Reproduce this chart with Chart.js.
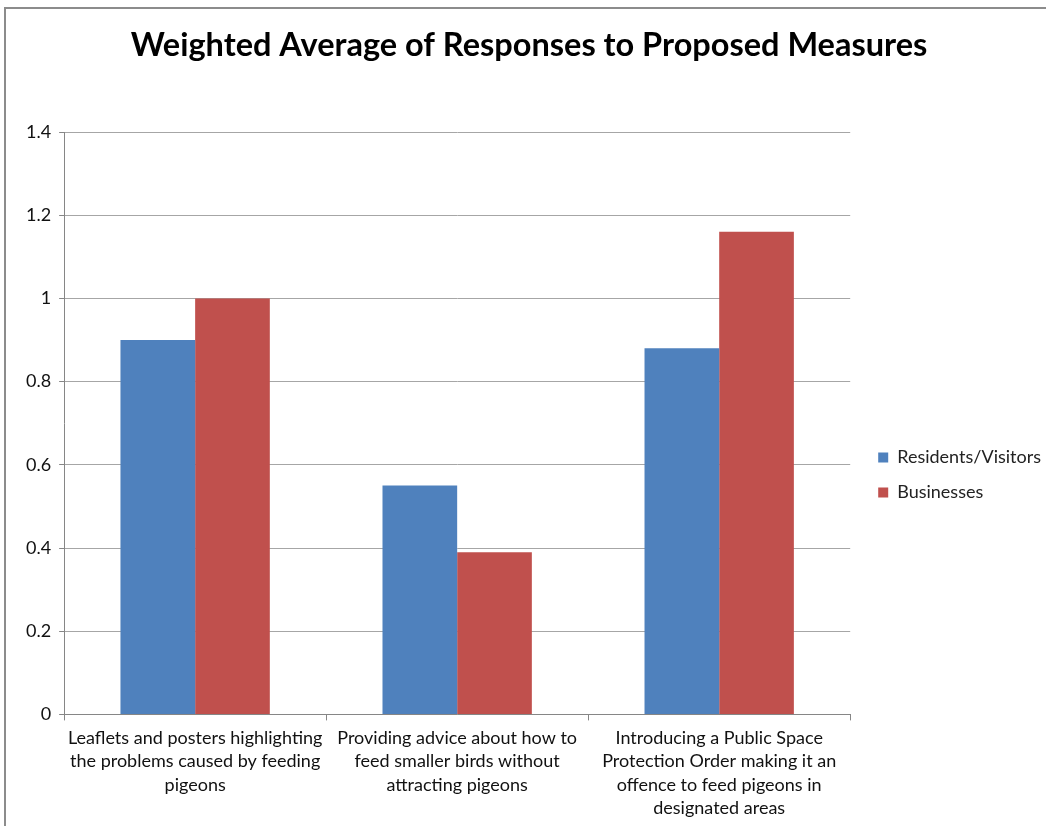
<!DOCTYPE html>
<html>
<head>
<meta charset="utf-8">
<script src="https://cdn.jsdelivr.net/npm/chart.js@4"></script>
<style>
  html, body { margin: 0; padding: 0; background: #fff; overflow: hidden; }
  #frame { position: absolute; left: 4px; top: 7px; width: 1200px; height: 1000px;
           border-left: 2px solid #8c8c8c; border-top: 2px solid #8c8c8c; }
  #chartBox { position: absolute; left: 0; top: 0; width: 1046px; height: 826px; }
</style>
</head>
<body>
<div id="frame"></div>
<div id="chartBox"><canvas id="pigeonChart" width="1046" height="826"></canvas></div>
<script>
// categories (wrapped into lines like the original)
var measures = [
  ['Leaflets and posters highlighting', 'the problems caused by feeding', 'pigeons'],
  ['Providing advice about how to', 'feed smaller birds without', 'attracting pigeons'],
  ['Introducing a Public Space', 'Protection Order making it an', 'offence to feed pigeons in', 'designated areas']
];

// series values
var residentsData = [0.9, 0.55, 0.88];
var businessData = [1.0, 0.39, 1.16];

var seriesNames = ['Residents/Visitors', 'Businesses'];
var seriesColors = ['#4F81BD', '#C0504D'];

var fontName = 'Lato, "Open Sans", sans-serif';

// nudge the legend a little to the right of where Chart.js puts it
var legendNudge = {
  id: 'legendNudge',
  afterLayout: function (chart) {
    chart.legend.left += 11;
    chart.legend.right += 11;
  }
};

var ctx = document.getElementById('pigeonChart').getContext('2d');
var pigeonChart = new Chart(ctx, {
  type: 'bar',
  data: {
    labels: measures,
    datasets: [{
      label: seriesNames[0],
      data: residentsData,
      backgroundColor: seriesColors[0],
      borderWidth: 0,
      categoryPercentage: 0.57,
      barPercentage: 1.0
    }, {
      label: seriesNames[1],
      data: businessData,
      backgroundColor: seriesColors[1],
      borderWidth: 0,
      categoryPercentage: 0.57,
      barPercentage: 1.0
    }]
  },
  options: {
    responsive: false,
    animation: false,
    devicePixelRatio: 1,
    layout: {
      padding: { left: 18, right: 6, top: 10, bottom: 0 }
    },
    plugins: {
      title: {
        display: true,
        text: 'Weighted Average of Responses to Proposed Measures',
        color: '#000',
        font: { family: fontName, size: 32.5, weight: 'bold' },
        padding: { top: 16, bottom: 67 }
      },
      legend: {
        position: 'right',
        // empty title only pushes the items down, as in the original
        title: {
          display: true,
          text: ' ',
          font: { size: 16 },
          padding: { top: 95, bottom: 0 }
        },
        labels: {
          color: '#222',
          font: { family: fontName, size: 18 },
          boxWidth: 10,
          boxHeight: 10,
          padding: 17
        }
      },
      tooltip: { enabled: false }
    },
    scales: {
      x: {
        grid: {
          drawOnChartArea: false,
          drawTicks: true,
          tickLength: 6,
          tickColor: '#868686'
        },
        border: { color: '#868686', width: 1 },
        ticks: {
          color: '#111',
          font: { family: fontName, size: 18, lineHeight: 1.3 },
          maxRotation: 0,
          padding: 6
        }
      },
      y: {
        min: 0,
        max: 1.4,
        grid: {
          color: '#a6a6a6',
          tickColor: '#868686',
          tickLength: 5
        },
        border: { color: '#868686', width: 1 },
        ticks: {
          stepSize: 0.2,
          color: '#111',
          font: { family: fontName, size: 18 },
          padding: 8,
          callback: function (v) { return String(Math.round(v * 10) / 10); }
        }
      }
    }
  },
  plugins: [legendNudge]
});
</script>
</body>
</html>
